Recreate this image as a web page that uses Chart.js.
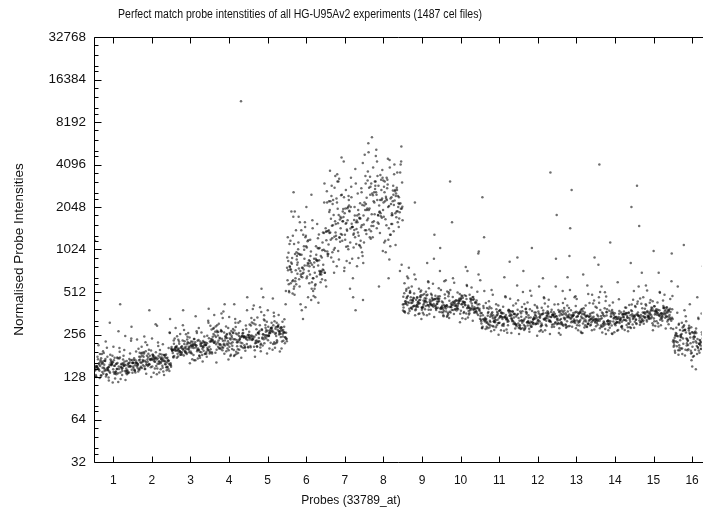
<!DOCTYPE html>
<html>
<head>
<meta charset="utf-8">
<script src="https://cdn.jsdelivr.net/npm/chart.js@4/dist/chart.umd.min.js"></script>
<style>
  html, body { margin: 0; padding: 0; background: #fff; overflow: hidden; }
  #c { display: block; }
</style>
</head>
<body>
<canvas id="c" width="703" height="512"></canvas>
<script>
// Probe positions along the x axis and the log2 intensity ticks
const probes = [1, 2, 3, 4, 5, 6, 7, 8, 9, 10, 11, 12, 13, 14, 15, 16];
const yTicks = [32, 64, 128, 256, 512, 1024, 2048, 4096, 8192, 16384, 32768];

const chartTitle = 'Perfect match probe intenstities of all HG-U95Av2 experiments (1487 cel files)';
const xTitle = 'Probes (33789_at)';
const yTitle = 'Normalised Probe Intensities';

// Normalised PM intensities per probe, one value per sampled cel file
const probe1 = [148,161,139,155,170,143,152,166,134,158,151,176,145,138,163,149,157,129,172,154,
  160,141,147,168,136,153,181,150,144,159,131,165,156,142,174,149,137,162,153,146,
  189,140,158,151,420,167,155,145,171,150,143,162,135,157,148,178,152,139,164,154,
  127,169,146,158,141,310,150,136,160,147,156,132,173,149,143,163,153,138,166,151,
  210,145,159,134,152,175,142,157,148,231,140,168,154,121,161,146,186,250,137,1180,
  118,195,142,167,128,205,156,136,181,149,124,172,160,139,215,146,133,188,154,126,
  170,143,240,158,131,199,151,137,176,163,122,184,147,270,135,166,155,129,193,141,
  159,117,178,150,228,138,168,145,132,206,153,125,186,161,144,290,134,174,157,140];
const probe2 = [162,175,151,183,158,169,147,190,164,172,155,180,166,143,171,160,186,152,168,177,
  149,163,195,158,173,145,167,181,156,164,170,140,176,161,153,188,166,380,174,159,
  182,157,169,138,165,178,150,171,162,199,146,167,184,155,172,163,141,179,168,154,
  216,160,175,148,166,187,152,170,161,177,157,144,173,164,185,150,168,159,192,162,
  240,153,176,167,146,181,158,171,135,264,165,178,149,170,155,302,163,183,156,148,
  134,210,158,181,143,225,169,150,197,162,138,188,175,152,236,160,146,205,168,140,
  185,156,262,172,144,218,164,151,192,178,132,200,161,295,148,182,170,141,212,155,
  174,128,194,165,248,151,184,159,145,226,167,137,203,176,157,330,147,190,171,153];
const probe3 = [203,218,191,210,226,197,207,184,215,200,232,195,211,188,222,204,199,380,193,213,
  208,181,219,201,227,196,212,190,241,205,198,223,186,209,217,194,230,202,189,214,
  206,248,192,220,200,185,225,211,197,234,203,178,216,207,193,229,199,213,187,221,
  210,196,238,204,183,218,201,226,195,208,262,199,214,190,224,205,180,231,202,217,
  194,209,285,198,222,188,212,175,206,320,219,201,192,257,210,168,228,203,236,196,
  168,258,196,223,178,270,209,186,244,201,173,232,216,189,285,199,182,251,207,175,
  228,193,310,213,179,265,202,188,238,220,165,247,199,345,184,226,210,176,262,192,
  215,160,240,204,298,187,228,197,181,276,206,171,249,218,195,390,183,235,212,190];
const probe4 = [228,262,210,247,195,238,273,219,251,204,236,289,215,244,198,258,226,270,207,240,
  252,189,231,280,221,246,200,264,234,213,298,225,249,192,237,268,209,255,230,183,
  243,276,216,233,260,202,248,222,285,211,239,196,257,228,310,206,245,271,218,235,
  187,253,226,266,212,241,295,199,232,250,220,278,237,205,262,229,247,193,275,215,
  340,224,256,208,243,180,268,231,372,219,251,162,238,420,210,264,225,11500,246,201,
  180,305,222,258,192,330,240,205,285,228,186,270,248,210,352,226,198,296,236,190,
  262,216,380,244,200,318,232,207,280,252,175,292,228,420,204,260,242,188,310,218,
  246,170,281,234,360,208,262,224,201,335,238,184,292,250,220,470,202,272,244,214];
const probe5 = [255,287,232,270,245,301,219,262,278,240,296,226,258,315,249,234,281,207,266,252,
  239,310,540,222,274,247,293,214,263,285,230,256,327,243,269,211,284,253,236,298,
  262,204,276,248,318,229,258,271,240,289,217,265,252,306,233,279,245,261,198,292,
  257,238,283,224,268,350,246,273,210,259,299,242,266,228,287,253,335,220,271,248,
  380,236,262,195,290,250,410,227,276,244,265,178,300,470,239,281,255,260,222,268,
  200,338,246,286,212,365,266,228,315,252,206,298,275,233,388,250,220,328,262,210,
  290,240,420,270,222,352,256,229,310,279,194,322,253,460,226,288,268,208,345,242,
  272,188,311,258,400,231,290,248,223,370,264,204,324,277,244,520,224,301,270,237];
const probe6 = [760,920,610,1040,700,850,540,980,680,790,1120,640,830,720,1280,590,880,750,1010,660,
  810,470,940,730,1190,620,860,1400,700,780,560,1050,690,900,820,640,1310,740,970,600,
  870,710,1600,780,520,960,680,1080,740,830,630,1150,790,890,580,720,1020,810,1750,660,
  940,700,850,490,1230,760,620,990,730,860,1080,580,800,920,690,1480,770,640,1030,710,
  2050,830,540,950,740,1170,610,880,420,1340,720,2600,860,380,1000,680,1900,790,330,1250,
  450,1400,720,1020,520,1650,800,600,1250,740,480,1150,900,640,1900,700,560,1350,820,500,
  1080,680,2200,860,540,1550,760,620,1200,950,430,1300,730,2500,580,1050,880,510,1450,690,
  920,400,1180,770,1750,630,1060,710,570,1600,800,470,1280,940,660,3000,590,1120,850,650];
const probe7 = [1450,2100,1020,1780,1300,2650,1150,1620,890,1980,1380,2400,1210,1700,760,1890,1480,3100,1060,1560,
  2250,1330,1800,980,1420,2900,1250,1670,820,2050,1520,1120,2480,1370,1930,700,1600,1180,2200,1440,
  3400,1280,1740,950,1560,2350,1090,1850,1340,640,1990,1470,2700,1200,1660,870,2120,1390,1510,3800,
  1160,1780,1030,2300,1430,1710,560,1900,1260,2550,1620,990,2050,1350,1820,4300,1110,1480,780,2180,
  1300,1950,470,1570,2780,1070,1690,1410,3250,920,2010,1230,380,1750,1540,2450,840,1640,4600,1190,
  820,2800,1350,1900,950,3300,1550,1100,2400,1400,880,2200,1700,1200,3700,1300,1000,2600,1580,900,
  2050,1250,4200,1650,980,3000,1450,1150,2300,1800,780,2500,1380,540,1050,1950,1620,920,2850,1280,
  1720,720,2250,1480,3500,1180,2000,1350,1060,3100,1520,850,2450,1780,1240,450,1080,2150,1600,1320];
const probe8 = [2100,2950,1600,2450,1850,3400,1450,2250,2700,1720,2380,1300,3100,2050,1950,3650,1550,2600,2150,1150,
  2800,1800,2300,4100,1680,2500,1380,2900,2000,3300,1500,2650,1900,2200,4500,1250,2550,1760,3000,2080,
  1620,3600,2350,1950,1080,2750,2180,3150,1700,2400,5200,1880,2600,1420,2250,3400,1990,980,2850,2120,
  1560,3050,2300,1820,2700,1340,4800,2050,2480,1730,3200,2150,870,2600,1910,3750,1650,2350,2900,1480,
  2200,5800,1790,2500,720,3100,2000,2680,1590,4300,2420,1220,3500,560,2060,2780,6400,1850,2300,1400,
  1200,3900,1900,2700,1400,4400,2200,1600,3300,2000,1300,3100,2400,1750,5000,1850,1450,3600,2250,1250,
  2900,1800,5500,2350,1380,4100,2100,1650,3200,2550,1100,3450,1950,640,1500,2800,2300,1320,3900,1820,
  2450,1000,3150,2150,4700,1700,2850,1950,1550,4300,2180,1180,3350,2500,1780,800,1520,3000,2280,1880];
const probe9 = [418,461,395,1300,447,372,489,430,406,515,441,384,466,421,398,538,452,409,476,365,
  433,497,387,458,424,760,411,470,392,445,520,403,437,378,483,428,455,361,502,414,
  449,392,471,426,545,407,438,383,462,419,2200,436,399,480,417,452,370,495,429,410,
  466,388,441,508,421,357,474,434,398,456,427,590,412,449,381,485,438,404,463,422,
  395,471,430,350,459,415,640,442,401,478,436,389,455,420,530,407,447,880,424,398,
  350,560,410,475,372,610,440,392,525,423,358,500,458,400,660,418,380,545,445,362,
  488,408,720,462,376,585,433,398,515,470,340,540,420,820,388,482,452,366,600,404,
  460,330,522,436,680,396,487,415,384,630,442,355,548,466,412,1050,386,506,450,402];
const probe10 = [398,433,371,452,409,386,479,402,365,441,415,392,1600,428,359,463,404,381,446,419,
  372,490,411,396,437,348,455,407,384,427,510,393,444,368,418,401,471,387,432,360,
  424,399,458,377,720,414,389,449,405,375,436,362,483,410,394,429,352,466,403,386,
  447,419,370,497,408,391,438,413,3100,382,425,367,456,400,388,442,610,397,431,374,
  462,406,355,423,393,478,412,380,440,960,401,364,451,417,389,434,335,470,396,409,
  330,530,388,448,350,575,415,370,495,398,338,472,432,377,620,394,358,515,420,342,
  460,385,680,436,355,552,408,375,486,444,320,508,396,770,366,455,426,345,565,381,
  434,312,492,411,640,373,459,391,362,595,417,334,516,439,388,990,364,477,425,379];
const probe11 = [331,362,304,349,386,318,340,287,371,325,2400,352,297,338,309,395,329,360,282,344,
  316,377,334,300,365,322,347,276,384,330,312,356,341,620,295,369,326,349,306,338,
  402,319,361,290,333,354,311,375,327,263,345,302,381,336,318,350,293,366,330,840,
  314,358,339,284,373,323,346,305,389,331,298,364,342,320,410,308,351,327,270,359,
  335,1250,315,368,301,344,329,383,292,352,339,310,376,325,448,303,348,334,288,362,
  272,440,318,370,286,478,342,304,410,328,278,392,356,310,520,324,294,425,346,280,
  380,316,570,360,290,458,336,306,402,364,262,420,326,650,300,374,352,284,470,314,
  358,255,408,338,530,306,378,322,298,490,344,274,428,366,318,900,296,394,348,312];
const probe12 = [335,298,366,321,352,288,378,314,341,305,362,327,281,349,395,310,337,296,368,322,
  720,346,291,358,317,331,404,302,345,276,371,324,339,285,356,312,3600,333,298,362,
  319,383,306,342,327,268,353,316,374,300,338,291,361,323,349,1050,309,336,280,367,
  326,345,297,389,318,332,258,357,311,341,303,372,329,350,289,338,320,425,307,355,
  325,284,364,315,343,560,299,334,376,312,348,293,359,328,1800,306,340,318,367,296,
  268,432,314,366,282,470,337,300,404,323,274,386,351,306,512,320,290,418,341,276,
  374,311,560,355,286,451,331,302,396,359,258,414,321,640,296,369,347,280,462,310,
  353,251,401,333,522,302,372,318,294,482,339,270,421,361,313,880,292,388,343,307];
const probe13 = [328,366,301,343,312,382,335,290,357,320,349,306,373,331,284,361,318,395,337,298,
  354,325,1450,342,310,369,292,350,329,315,378,302,345,333,268,362,321,352,307,388,
  339,296,366,324,680,347,313,371,330,287,355,319,343,302,410,336,326,359,295,348,
  2700,316,365,333,305,350,322,383,299,341,327,262,358,318,346,309,374,332,293,364,
  340,312,352,920,325,367,300,344,330,445,318,356,289,338,311,372,327,495,347,306,
  344,286,428,318,370,262,410,328,478,304,392,342,274,456,310,366,294,425,346,520,
  316,380,278,360,336,570,290,402,324,458,306,364,420,262,352,326,470,284,374,650,
  300,408,255,358,338,490,322,378,298,530,366,274,428,344,312,900,296,394,348,318];
const probe14 = [322,359,296,338,381,309,331,280,364,317,345,291,370,325,304,4100,352,318,285,341,
  329,372,300,356,314,334,398,307,348,276,361,320,343,293,375,311,337,258,354,326,
  302,367,333,800,315,349,288,362,321,339,306,380,328,296,357,318,343,272,366,324,
  1150,335,312,350,299,371,327,309,345,288,360,319,337,443,304,352,330,294,368,315,
  341,283,357,323,2050,310,346,326,377,301,333,264,359,318,520,340,307,364,297,329,
  320,392,270,432,300,366,258,414,337,470,282,386,351,306,512,323,274,418,341,290,
  276,410,330,600,292,362,344,286,455,316,348,260,396,327,510,308,366,322,290,476,
  335,266,430,356,318,820,298,382,340,304,374,311,560,355,286,451,331,302,396,359];
const probe15 = [346,384,318,362,333,401,349,305,372,339,358,326,389,344,298,367,335,411,352,318,
  1500,341,376,329,360,312,395,348,336,371,322,355,430,340,308,366,345,383,327,350,
  364,317,392,2900,343,358,302,379,349,331,368,338,406,322,355,347,284,374,341,362,
  329,386,353,700,337,371,315,360,345,396,351,326,380,342,366,308,423,357,339,375,
  1000,348,362,324,389,355,335,445,368,320,377,352,398,343,480,365,330,384,358,408,
  292,470,342,398,308,512,368,326,440,352,298,420,382,332,560,348,316,456,372,300,
  408,338,610,386,312,490,360,330,432,392,282,450,350,700,322,400,378,304,505,336,
  384,274,438,362,570,328,406,346,320,525,370,294,460,394,340,960,318,422,374,334];
const probe16 = [228,262,204,247,283,215,238,186,270,222,251,197,292,232,190,259,218,276,241,178,
  560,226,264,207,249,305,212,238,194,269,233,256,201,280,224,245,172,262,230,209,
  287,238,196,254,220,1100,244,266,211,232,182,275,226,249,203,318,237,260,215,240,
  198,270,229,252,165,284,234,212,258,226,420,243,205,272,236,188,262,220,298,233,
  152,250,214,277,228,245,198,360,240,219,265,206,780,231,254,145,246,224,273,210,
  186,310,218,258,196,336,240,206,288,228,190,274,250,210,365,226,200,300,238,184,
  266,214,400,246,198,322,232,208,282,254,176,295,224,470,204,262,244,190,330,220,
  248,168,286,234,380,210,264,226,202,345,240,180,300,256,222,640,200,276,246,216];

const series = [probe1, probe2, probe3, probe4, probe5, probe6, probe7, probe8,
  probe9, probe10, probe11, probe12, probe13, probe14, probe15, probe16];

// Minor tick factors between successive powers of two
const minorFactors = [1.14, 1.25, 1.5, 1.75];

const FONT = '"Liberation Sans", Arial, Helvetica, sans-serif';

// Each probe occupies one unit along x; its cel files are spread across that unit
// in a strided order so neighbouring files do not sit side by side
const STRIDE = 97;
const datasets = series.map((vals, k) => ({
  label: 'Probe ' + probes[k],
  data: vals.map((v, i) => ({
    x: probes[k] - 0.5 + (((i * STRIDE) % vals.length) + 0.5) / vals.length,
    y: v
  })),
  pointRadius: 1.25,
  pointHoverRadius: 1.25,
  pointBorderWidth: 0,
  pointBackgroundColor: 'rgba(15,15,15,0.6)',
  showLine: false
}));

// Gnuplot-style frame: left/top/bottom border with inward ticks, free-placed titles
const framePlugin = {
  id: 'frame',
  afterDatasetsDraw(chart) {
    const { ctx, chartArea: a, scales: { x, y } } = chart;
    const L = Math.round(a.left) + 0.5, R = chart.width;
    const T = Math.round(a.top) + 0.5, B = Math.round(a.bottom) + 0.5;
    ctx.save();
    ctx.strokeStyle = '#000';
    ctx.lineWidth = 1;
    ctx.beginPath();
    ctx.moveTo(R, T); ctx.lineTo(L, T); ctx.lineTo(L, B); ctx.lineTo(R, B);
    yTicks.forEach((v, i) => {
      const py = Math.round(y.getPixelForValue(v)) + 0.5;
      ctx.moveTo(L, py); ctx.lineTo(L + 7, py);
      if (i < yTicks.length - 1) {
        minorFactors.forEach(f => {
          const my = Math.round(y.getPixelForValue(v * f)) + 0.5;
          ctx.moveTo(L, my); ctx.lineTo(L + 4, my);
        });
      }
    });
    probes.forEach(p => {
      const px = Math.round(x.getPixelForValue(p)) + 0.5;
      ctx.moveTo(px, B); ctx.lineTo(px, B - 6);
      ctx.moveTo(px, T); ctx.lineTo(px, T + 6);
    });
    ctx.stroke();

    ctx.fillStyle = '#111';
    ctx.textAlign = 'center';
    ctx.textBaseline = 'middle';
    // condensed heading: fit the title into its narrow span
    ctx.font = '12.5px ' + FONT;
    const w = ctx.measureText(chartTitle).width;
    ctx.save();
    ctx.translate(300, 15);
    ctx.scale(364 / w, 1);
    ctx.fillText(chartTitle, 0, 0);
    ctx.restore();
    ctx.font = '12px ' + FONT;
    ctx.fillText(xTitle, 351, 501);
    ctx.restore();
  }
};

new Chart(document.getElementById('c'), {
  type: 'scatter',
  data: { datasets },
  plugins: [framePlugin],
  options: {
    responsive: false,
    devicePixelRatio: 1,
    animation: false,
    events: [],
    layout: { padding: { top: 37, right: 0, bottom: 0, left: 0 } },
    plugins: {
      legend: { display: false },
      tooltip: { enabled: false },
      title: { display: false }
    },
    scales: {
      x: {
        type: 'linear',
        min: 0.5,
        // the plot runs on past the page edge; only part of the last probe is visible
        max: 16.25,
        afterBuildTicks: s => { s.ticks = probes.map(v => ({ value: v })); },
        afterFit: s => { s.height = 50; },
        grid: { display: false },
        border: { display: false },
        ticks: {
          autoSkip: false,
          maxRotation: 0,
          padding: 3,
          color: '#111',
          font: { family: FONT, size: 12 },
          callback: v => String(v)
        }
      },
      y: {
        type: 'logarithmic',
        min: 32,
        max: 32768,
        afterBuildTicks: s => { s.ticks = yTicks.map(v => ({ value: v })); },
        afterFit: s => { s.width = 94; },
        grid: { display: false },
        border: { display: false },
        ticks: {
          autoSkip: false,
          padding: 0,
          color: '#111',
          font: { family: FONT, size: 13.5 },
          callback: v => String(v)
        },
        title: {
          display: true,
          text: yTitle,
          color: '#111',
          font: { family: FONT, size: 13.5 },
          padding: { top: 11, bottom: 0 }
        }
      }
    }
  }
});
</script>
</body>
</html>
